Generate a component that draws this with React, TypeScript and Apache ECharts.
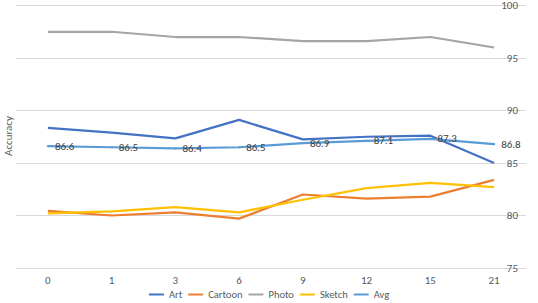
import React, { useEffect, useRef } from "react";
import * as echarts from "echarts";

const categories = ["0", "1", "3", "6", "9", "12", "15", "21"];
const art = [88.35, 87.9, 87.35, 89.1, 87.25, 87.5, 87.6, 85.0];
const cartoon = [80.45, 80.0, 80.3, 79.7, 82.0, 81.6, 81.8, 83.4];
const photo = [97.5, 97.5, 97.0, 97.0, 96.6, 96.6, 97.0, 96.0];
const sketch = [80.2, 80.4, 80.8, 80.3, 81.5, 82.6, 83.1, 82.7];
const avg = [86.6, 86.5, 86.4, 86.5, 86.9, 87.1, 87.3, 86.8];

const seriesNames = ["Art", "Cartoon", "Photo", "Sketch", "Avg"];
const seriesData = [art, cartoon, photo, sketch, avg];
const colors = ["#4472C4", "#ED7D31", "#A5A5A5", "#FFC000", "#5B9BD5"];

export default function App() {
  const ref = useRef<HTMLDivElement>(null);
  useEffect(() => {
    if (!ref.current) return;
    const chart = echarts.init(ref.current, undefined, { renderer: "svg" });
    const font = "Carlito, Calibri, 'Open Sans', 'DejaVu Sans', sans-serif";
    chart.setOption({
      animation: false,
      color: colors,
      textStyle: { fontFamily: font },
      grid: { left: 16, right: 12, top: 5, bottom: 35, containLabel: false },
      legend: {
        top: 284,
        left: "center",
        padding: 5,
        icon: "rect",
        itemWidth: 15,
        itemHeight: 2,
        itemGap: 6,
        textStyle: { fontSize: 10.5, color: "#595959", fontFamily: font },
        data: seriesNames,
      },
      graphic: [
        {
          type: "text",
          x: 3,
          y: 136,
          rotation: Math.PI / 2,
          style: {
            text: "Accuracy",
            fontSize: 11,
            fill: "#595959",
            align: "center",
            verticalAlign: "top",
            fontFamily: font,
          },
        },
      ],
      xAxis: {
        type: "category",
        data: categories,
        boundaryGap: true,
        axisLine: { show: false },
        axisTick: { show: false },
        axisLabel: { fontSize: 11, color: "#595959", margin: 7 },
      },
      yAxis: {
        type: "value",
        position: "right",
        min: 75,
        max: 100,
        interval: 5,
        axisLine: { show: false },
        axisTick: { show: false },
        axisLabel: { inside: true, margin: 8, fontSize: 11, color: "#595959" },
        splitLine: { lineStyle: { color: "#D9D9D9", width: 1 } },
      },
      series: seriesNames.map((name, i) => ({
        name,
        type: "line",
        data: seriesData[i],
        symbol: name === "Avg" ? "circle" : "none",
        symbolSize: 2,
        showSymbol: name === "Avg",
        lineStyle: { width: 2.25, color: colors[i] },
        itemStyle: { color: colors[i] },
        z: name === "Avg" ? 3 : 2,
        labelLayout: { hideOverlap: false },
        label:
          name === "Avg"
            ? {
                show: true,
                position: "right",
                distance: 6,
                offset: [0, 1.5],
                fontSize: 11,
                color: "#404040",
                formatter: (p: any) => Number(p.value).toFixed(1),
              }
            : { show: false },
      })),
    });
    return () => chart.dispose();
  }, []);
  return <div ref={ref} style={{ width: 538, height: 303, position: "absolute", left: 0, top: 0 }} />;
}
